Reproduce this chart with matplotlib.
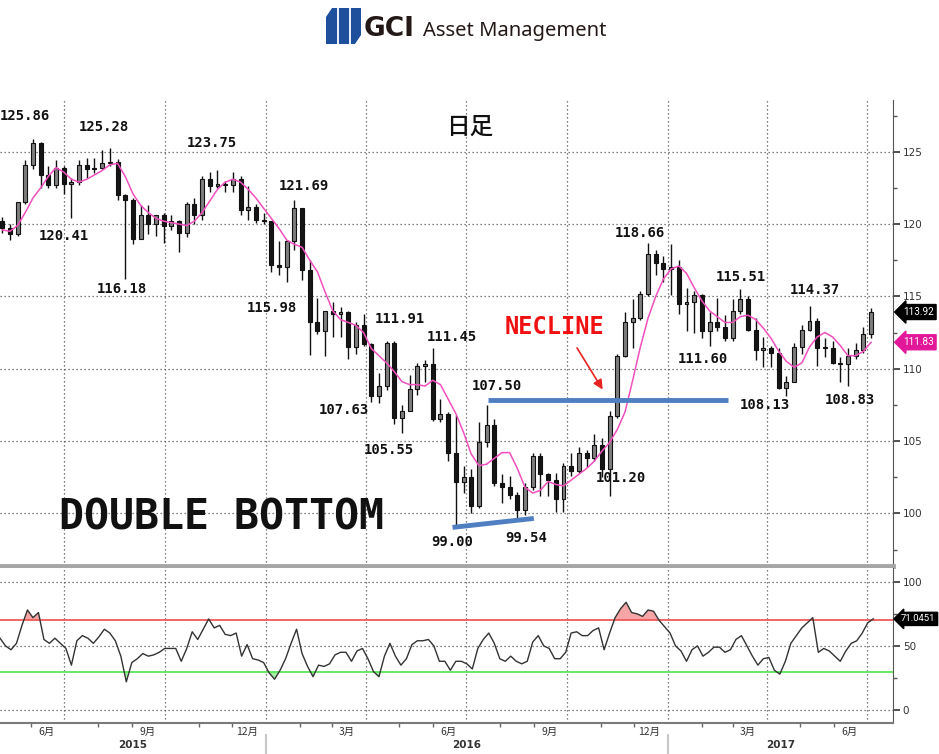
import numpy as np
import pandas as pd
import matplotlib
matplotlib.use("Agg")
import matplotlib.pyplot as plt
import matplotlib.dates as mdates
from matplotlib.patches import Polygon
from matplotlib.transforms import blended_transform_factory as blend

plt.rcParams['font.family'] = ['DejaVu Sans', 'Noto Sans CJK JP']

# ---------------- data (weekly candles, USD/JPY) ----------------
first_week = "2015-05-04"
opens = [120.2, 119.7, 119.3, 121.5, 124.1, 125.6, 123.4, 122.7, 123.9, 122.8,
         122.9, 124.1, 123.8, 123.9, 124.2, 124.3, 122.0, 121.7, 119.0, 120.6,
         120.0, 120.6, 119.9, 120.2, 119.4, 121.4, 120.6, 123.1, 122.6, 122.8,
         122.7, 123.1, 121.0, 121.2, 120.3, 120.2, 117.2, 117.0, 118.8, 121.1,
         116.8, 113.2, 112.6, 114.0, 113.8, 113.9, 111.5, 113.0, 111.7, 108.1,
         108.8, 111.8, 106.6, 107.1, 108.6, 110.2, 110.3, 106.5, 106.9, 104.2,
         102.2, 102.5, 100.5, 104.9, 106.1, 102.1, 101.8, 101.3, 100.2, 101.8,
         104.0, 102.7, 102.3, 101.0, 103.3, 102.9, 104.2, 103.8, 104.7, 103.1,
         106.7, 110.9, 113.2, 113.5, 115.2, 117.9, 117.3, 116.9, 117.0, 114.5,
         114.6, 115.1, 112.6, 113.2, 112.9, 112.1, 114.0, 114.8, 112.7, 111.3,
         111.4, 111.1, 108.7, 109.1, 111.5, 112.7, 113.3, 111.4, 111.4, 110.4,
         110.3, 110.9, 111.3, 112.4]
highs = [120.5, 120.0, 121.5, 124.4, 125.86, 125.7, 124.0, 124.4, 124.0, 123.2,
         124.4, 124.6, 124.6, 125.1, 125.28, 124.5, 122.1, 121.8, 121.3, 121.3,
         120.6, 120.8, 120.6, 120.3, 121.5, 121.8, 123.3, 123.6, 123.75, 123.0,
         123.6, 123.3, 122.6, 121.4, 120.8, 120.2, 118.8, 118.9, 121.69, 121.1,
         117.5, 114.9, 114.0, 114.6, 114.3, 114.0, 113.2, 113.8, 111.8, 109.7,
         111.9, 111.91, 107.5, 109.6, 110.4, 110.6, 111.45, 107.9, 107.0, 106.8,
         103.3, 103.1, 106.3, 107.50, 106.5, 102.7, 102.6, 101.5, 102.1, 104.2,
         104.2, 102.8, 102.8, 103.5, 104.2, 104.6, 104.4, 105.5, 105.2, 107.1,
         111.0, 113.9, 114.8, 115.4, 118.66, 118.2, 117.8, 118.6, 117.5, 115.6,
         115.4, 115.2, 113.9, 114.9, 113.7, 114.8, 115.51, 115.0, 113.5, 112.2,
         111.6, 111.4, 109.5, 111.8, 113.0, 114.37, 113.5, 112.1, 111.9, 110.8,
         111.4, 111.8, 112.9, 114.2]
lows = [119.4, 118.9, 119.2, 121.4, 123.8, 122.5, 122.5, 122.5, 122.1, 120.41,
        122.7, 123.2, 123.5, 123.8, 124.0, 121.7, 116.18, 118.6, 119.0, 119.3,
        119.2, 118.7, 119.6, 118.07, 119.1, 120.0, 120.3, 122.2, 122.5, 122.2,
        122.2, 120.6, 120.3, 120.1, 120.0, 116.7, 116.5, 115.98, 118.2, 116.1,
        110.98, 112.4, 110.9, 112.2, 112.2, 110.7, 111.0, 111.6, 107.7, 107.63,
        108.5, 106.2, 105.55, 107.1, 108.2, 109.1, 106.4, 106.3, 103.6, 99.00,
        101.4, 99.99, 100.4, 104.6, 101.9, 100.7, 101.0, 99.54, 99.9, 101.6,
        101.2, 101.2, 100.1, 100.1, 102.6, 102.8, 103.2, 103.6, 102.5, 101.2,
        106.6, 110.8, 111.4, 113.4, 115.0, 116.5, 116.0, 115.1, 113.8, 112.6,
        112.5, 112.1, 111.6, 112.6, 111.9, 111.9, 113.8, 112.6, 110.6, 110.1,
        110.1, 108.6, 108.13, 109.1, 111.0, 112.6, 110.2, 110.8, 110.3, 109.1,
        108.83, 110.7, 111.1, 112.1]
closes = [119.7, 119.3, 121.5, 124.1, 125.6, 123.4, 122.7, 123.9, 122.8, 122.9,
          124.1, 123.8, 123.9, 124.2, 124.3, 122.0, 121.7, 119.0, 120.6, 120.0,
          120.6, 119.9, 120.2, 119.4, 121.4, 120.6, 123.1, 122.6, 122.8, 122.7,
          123.1, 121.0, 121.2, 120.3, 120.2, 117.2, 117.0, 118.8, 121.1, 116.8,
          113.2, 112.6, 114.0, 113.8, 113.9, 111.5, 113.0, 111.7, 108.1, 108.8,
          111.8, 106.6, 107.1, 108.6, 110.2, 110.3, 106.5, 106.9, 104.2, 102.2,
          102.5, 100.5, 104.9, 106.1, 102.1, 101.8, 101.3, 100.2, 101.8, 104.0,
          102.7, 102.3, 101.0, 103.3, 102.9, 104.2, 103.8, 104.7, 103.1, 106.7,
          110.9, 113.2, 113.5, 115.2, 117.9, 117.3, 116.9, 117.0, 114.5, 114.6,
          115.1, 112.6, 113.2, 112.9, 112.1, 114.0, 114.8, 112.7, 111.3, 111.4,
          111.1, 108.7, 109.1, 111.5, 112.7, 113.3, 111.4, 111.4, 110.4, 110.3,
          110.9, 111.3, 112.4, 113.92]
ma25 = [119.6, 119.5, 119.9, 120.8, 121.8, 122.5, 123.3, 123.9, 123.6, 123.1,
        122.9, 123.1, 123.4, 123.7, 124.1, 124.2, 123.3, 122.1, 121.3, 120.8,
        120.4, 120.2, 120.1, 120.0, 119.9, 120.2, 120.8, 121.6, 122.4, 122.9,
        123.1, 122.9, 122.4, 121.8, 121.1, 120.4, 119.7, 118.9, 118.6, 118.4,
        117.5, 116.7, 115.3, 114.0, 113.4, 113.2, 113.0, 112.5, 111.4, 110.9,
        110.4, 109.8, 109.1, 108.9, 108.9, 108.8, 109.2, 108.9, 107.9, 106.9,
        105.6, 104.1, 103.3, 103.4, 103.8, 104.2, 104.2, 103.1, 101.8, 101.4,
        101.6, 102.2, 102.0, 101.9, 102.3, 102.7, 103.1, 103.6, 104.3, 104.9,
        105.8, 107.0, 109.2, 111.5, 113.5, 115.0, 116.2, 116.9, 117.1, 116.6,
        115.6, 114.7, 114.0, 113.6, 113.2, 113.2, 113.6, 113.7, 113.4, 112.8,
        112.1, 111.2, 110.5, 110.1, 110.4, 111.5, 112.2, 112.5, 112.2, 111.6,
        110.9, 110.9, 111.2, 111.83]

# RSI (sampled every 5 days)
rsi_start = "2015-05-04"
rsi = [56, 50, 47, 52, 66, 78, 72, 76, 55, 52,
       56, 52, 48, 35, 54, 58, 56, 52, 57, 63,
       60, 54, 42, 22, 37, 40, 44, 42, 43, 45,
       48, 48, 48, 38, 48, 61, 55, 63, 71, 64,
       66, 59, 58, 60, 42, 51, 40, 39, 37, 29,
       24, 31, 40, 52, 63, 44, 34, 26, 35, 34,
       36, 43, 45, 45, 38, 46, 48, 40, 30, 26,
       42, 52, 42, 35, 40, 51, 54, 54, 55, 50,
       38, 38, 31, 38, 38, 36, 32, 48, 55, 60,
       52, 40, 38, 42, 38, 36, 38, 53, 58, 50,
       48, 40, 40, 45, 60, 61, 58, 58, 62, 64,
       47, 60, 72, 79, 84, 76, 75, 73, 78, 77,
       70, 65, 60, 50, 46, 38, 47, 50, 42, 45,
       49, 49, 45, 47, 55, 58, 50, 42, 35, 40,
       41, 31, 28, 38, 52, 58, 64, 68, 72, 45,
       48, 46, 42, 38, 46, 52, 54, 60, 68, 71.05]

last_close = "113.92"
last_ma = "111.83"
last_rsi = "71.0451"

neck_dates = ["2016-07-21", "2017-02-25"]
neck_levels = [107.85, 107.85]
bottom_dates = ["2016-06-19", "2016-09-01"]
bottom_levels = [99.03, 99.65]
arrow_from = ("2016-10-09", 111.6)
arrow_to = ("2016-11-04", 108.4)

x_start, x_end = "2015-05-04", "2017-07-25"
price_ticks = [100, 105, 110, 115, 120, 125]
rsi_ticks = [0, 50, 100]
month_label_dates = ["2015-06-15", "2015-09-15", "2015-12-15", "2016-03-15", "2016-06-15",
                     "2016-09-15", "2016-12-15", "2017-03-15", "2017-06-15"]
month_labels = ["6月", "9月", "12月", "3月", "6月", "9月", "12月", "3月", "6月"]
years = ["2015", "2016", "2017"]

# peak / trough labels: (text, axes-x, axes-y, ha)
peak_labels = [("125.86", 0.000, 0.9657, 'left'), ("125.28", 0.1165, 0.9421, 'center'),
               ("123.75", 0.2374, 0.9077, 'center'), ("121.69", 0.3404, 0.8155, 'center'),
               ("120.41", 0.0717, 0.7082, 'center'), ("116.18", 0.1366, 0.5944, 'center'),
               ("115.98", 0.3046, 0.5536, 'center'), ("111.91", 0.4479, 0.5300, 'center'),
               ("111.45", 0.5062, 0.4914, 'center'), ("107.63", 0.3852, 0.3348, 'center'),
               ("105.55", 0.4356, 0.2489, 'center'), ("107.50", 0.5565, 0.3863, 'center'),
               ("99.00", 0.5062, 0.0515, 'center'), ("99.54", 0.5890, 0.0601, 'center'),
               ("101.20", 0.6954, 0.1888, 'center'), ("118.66", 0.7167, 0.7146, 'center'),
               ("115.51", 0.8298, 0.6202, 'center'), ("111.60", 0.7872, 0.4442, 'center'),
               ("114.37", 0.9127, 0.5923, 'center'), ("108.13", 0.8567, 0.3455, 'center'),
               ("108.83", 0.9518, 0.3562, 'center')]

# ---------------- figure ----------------
W, H = 939, 754
fig = plt.figure(figsize=(W / 100, H / 100), dpi=100)
fig.patch.set_facecolor('white')

def fx(px):
    return px / W

def fy(py):
    return 1 - py / H

ax = fig.add_axes([0, fy(566), fx(893), fy(100) - fy(566)])
ax2 = fig.add_axes([0, fy(723), fx(893), fy(568) - fy(723)], sharex=ax)

# candles
weeks = pd.date_range(first_week, periods=len(closes), freq='7D') + pd.Timedelta(days=2)
xw = mdates.date2num(weeks)
o = np.array(opens); h = np.array(highs); l = np.array(lows); c = np.array(closes)
up = c >= o
ax.vlines(xw, l, h, color='#111111', lw=1.0, zorder=3)
body = np.maximum(np.abs(c - o), 0.08)
ax.bar(xw, body, bottom=np.minimum(o, c), width=3.6,
       color=np.where(up, '#7e7e7e', '#151515'), edgecolor='#111111', lw=0.8, zorder=4)
ax.plot(xw, ma25, color='#f24fbf', lw=1.1, zorder=5)

# annotation lines
ax.plot(mdates.date2num(pd.to_datetime(neck_dates)), neck_levels, color='#4f7fc0', lw=3.5,
        solid_capstyle='butt', zorder=6)
ax.plot(mdates.date2num(pd.to_datetime(bottom_dates)), bottom_levels, color='#4f7fc0', lw=3.5,
        solid_capstyle='butt', zorder=6)
ax.annotate('', xy=(mdates.date2num(pd.Timestamp(arrow_to[0])), arrow_to[1]),
            xytext=(mdates.date2num(pd.Timestamp(arrow_from[0])), arrow_from[1]),
            arrowprops=dict(arrowstyle='-|>', color='#e8231f', lw=1.2, mutation_scale=14),
            zorder=7)

xlim = (mdates.date2num(pd.Timestamp(x_start)), mdates.date2num(pd.Timestamp(x_end)))
ax.set_xlim(*xlim)
ax.set_ylim(96.36, 128.58)

grid_kw = dict(color='#555555', lw=0.9, linestyle=(0, (1, 2.2)))
quarters = pd.date_range("2015-07-01", "2017-07-01", freq='QS')
months = pd.date_range("2015-06-01", "2017-07-01", freq='MS')
for a in (ax, ax2):
    a.set_xticks(mdates.date2num(quarters))
    a.set_xticks(mdates.date2num(months), minor=True)
    a.grid(True, which='major', axis='both', **grid_kw)
    a.set_axisbelow(True)
    a.yaxis.tick_right()
    a.spines['left'].set_visible(False)
    a.spines['top'].set_visible(False)
    a.spines['right'].set_color('#555555')
    a.tick_params(axis='y', which='major', direction='out', length=5, width=1.2,
                  colors='#333333', labelsize=7.5, pad=2)
    a.tick_params(axis='y', which='minor', direction='out', length=3, width=1, colors='#555555')

ax.set_yticks(price_ticks)
ax.set_yticks([p + 2.5 for p in price_ticks] + [price_ticks[0] - 2.5], minor=True)
ax.tick_params(axis='x', which='both', length=0, labelbottom=False)
ax.spines['bottom'].set_color('#a6a6a6')
ax.spines['bottom'].set_linewidth(3.5)

# RSI panel
xr = mdates.date2num(pd.date_range(rsi_start, periods=len(rsi), freq='5D'))
r = np.array(rsi)
ax2.fill_between(xr, r, 70, where=r > 70, interpolate=True, color='#f6a6a6', lw=0, zorder=2)
ax2.fill_between(xr, r, 30, where=r < 30, interpolate=True, color='#a6f0a6', lw=0, zorder=2)
ax2.axhline(70, color='#ee5a5a', lw=1.3, zorder=3)
ax2.axhline(30, color='#5ae65a', lw=1.3, zorder=3)
ax2.plot(xr, r, color='#333333', lw=1.0, zorder=4)
ax2.set_ylim(-10.1, 110.7)
ax2.set_yticks(rsi_ticks)
ax2.set_yticks([25, 75], minor=True)
ax2.spines['bottom'].set_color('#7a7a7a')
ax2.spines['bottom'].set_linewidth(1.5)
ax2.tick_params(axis='x', which='major', length=0, labelbottom=False)
ax2.tick_params(axis='x', which='minor', length=3, width=1, color='#666666', direction='out')

tr2 = blend(ax2.transData, ax2.transAxes)
for d, lab in zip(month_label_dates, month_labels):
    ax2.text(mdates.date2num(pd.Timestamp(d)), -0.06, lab, transform=tr2, ha='center', va='center',
             fontsize=7.5, color='#333333', family=['Noto Sans CJK JP', 'DejaVu Sans'])
bounds = [xlim[0]] + [mdates.date2num(pd.Timestamp(f"{y}-01-01")) for y in years[1:]] + [xlim[1]]
for i, y in enumerate(years):
    ax2.text((bounds[i] + bounds[i + 1]) / 2, -0.145, y, transform=tr2, ha='center', va='center',
             fontsize=7.5, color='#333333', fontweight='bold')
for b in bounds[1:-1]:
    ax2.plot([b, b], [-0.08, -0.21], transform=tr2, color='#c8c8c8', lw=1.5, clip_on=False)

# value tags
tag_kw = dict(ha='left', va='center', fontsize=7.2, color='white', family='Roboto')
trp = blend(ax.transAxes, ax.transData)
ax.text(1.011, float(last_close), last_close, transform=trp,
        bbox=dict(boxstyle='larrow,pad=0.25', fc='black', ec='black'), **tag_kw)
ax.text(1.011, float(last_ma), last_ma, transform=trp,
        bbox=dict(boxstyle='larrow,pad=0.25', fc='#e3179a', ec='#e3179a'), **tag_kw)
trr = blend(ax2.transAxes, ax2.transData)
ax2.text(1.009, float(last_rsi), last_rsi, transform=trr,
         bbox=dict(boxstyle='larrow,pad=0.22', fc='black', ec='black'),
         **{**tag_kw, 'fontsize': 6.8})

# text labels
for txt, px_, py_, ha in peak_labels:
    ax.text(px_, py_, txt, transform=ax.transAxes, ha=ha, va='center', fontsize=10,
            fontweight='bold', family='DejaVu Sans Mono', color='#111111', zorder=8)
ax.text(0.6215, 0.5129, "NECLINE", transform=ax.transAxes, ha='center', va='center',
        fontsize=17, fontweight='bold', family='DejaVu Sans Mono', color='#f01010', zorder=8)
ax.text(0.2475, 0.105, "DOUBLE BOTTOM", transform=ax.transAxes, ha='center', va='center',
        fontsize=30, fontweight='bold', family='DejaVu Sans Mono', color='#111111', zorder=8)
ax.text(0.5263, 0.942, "日足", transform=ax.transAxes, ha='center', va='center',
        fontsize=17, family=['Noto Sans CJK JP', 'DejaVu Sans'], fontweight='medium',
        color='#111111', zorder=8)

# header logo
blue = '#1d4f9d'
logo = [(326, 17), (332, 8), (361, 8), (361, 35), (355, 44), (326, 44)]
fig.patches.append(Polygon([(fx(a), fy(b)) for a, b in logo], closed=True, transform=fig.transFigure,
                           fc=blue, ec='none'))
for gx in (337.5, 349.5):
    fig.add_artist(plt.Line2D([fx(gx), fx(gx)], [fy(6), fy(46)], transform=fig.transFigure,
                              color='white', lw=1.3))
fig.text(fx(364), fy(36), "GCI", fontsize=19, fontweight='bold', color='#231815',
         ha='left', va='baseline', family='DejaVu Sans')
fig.text(fx(423), fy(36), "Asset Management", fontsize=14.5, color='#231815',
         ha='left', va='baseline', family='Noto Sans')

fig.savefig("out.png", dpi=100, facecolor='white')
